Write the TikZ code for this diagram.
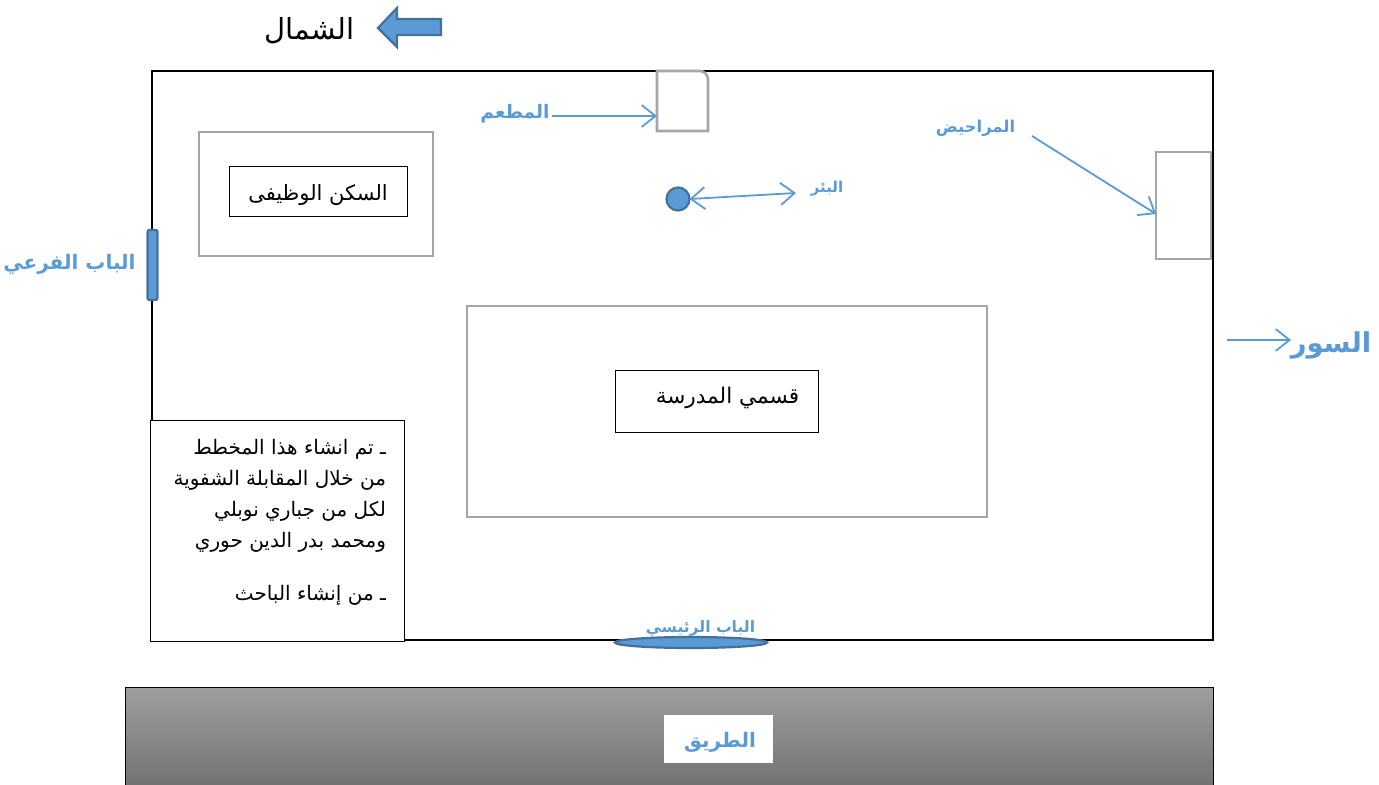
\documentclass[tikz,border=0pt]{standalone}
\usepackage{fontspec}
\usetikzlibrary{arrows.meta,shapes.geometric}
\TeXXeTstate=1
\newfontfamily\arabicfont[Script=Arabic]{DejaVu Sans}
\definecolor{lblue}{HTML}{5B9BD5}
\definecolor{dblue}{HTML}{41719C}
\definecolor{wallgray}{HTML}{A6A6A6}
\newcommand{\ar}[1]{\arabicfont\beginR #1\endR}
\tikzset{
  every node/.style={inner sep=0pt,outer sep=0pt},
  blk/.style={draw=black,line width=0.5pt,fill=white},
  graybox/.style={draw=wallgray,line width=1.3pt},
  barbtip/.tip={Straight Barb[length=7pt,width=11pt,line width=0.9pt]},
  barb/.style={lblue,line width=0.9pt,-barbtip},
  bluelabel/.style={text=lblue,font=\bfseries},
  doorstyle/.style={fill=lblue,draw=dblue,line width=1.1pt},
}
\begin{document}
\begin{tikzpicture}[x=0.5pt,y=-0.5pt]
\useasboundingbox (0,0) rectangle (1379,785);
% road
\draw[black,line width=0.5pt,top color=black!38,bottom color=black!55] (125,785) -- (125,687) -- (1213,687) -- (1213,785);
\node[fill=white,minimum width=54.5pt,minimum height=24pt] (roadbox) at (718.5,739) {};
\node[bluelabel,font=\bfseries\fontsize{10}{12}\selectfont] (road) at (720,742) {\ar{الطريق}};
% wall
\draw[black,line width=1pt] (152,71) rectangle (1213,640);
% north
\draw[doorstyle] (378,28) -- (397,8) -- (397,19) -- (441,19) -- (441,35) -- (397,35) -- (397,47) -- cycle;
\node[font=\fontsize{14.5}{18}\selectfont] (north) at (309.5,31) {\ar{الشمال}};
% housing
\draw[graybox] (199,132) rectangle (433,256);
\node[blk,minimum width=89pt,minimum height=25pt] (housing) at (318,192) {};
\node[font=\fontsize{10.5}{13}\selectfont] at (318,195) {\ar{السكن الوظيفى}};
% school
\draw[graybox] (467,306) rectangle (987,517);
\node[blk,minimum width=101.5pt,minimum height=30.5pt] (school) at (716.5,401.5) {};
\node[font=\fontsize{10.8}{13}\selectfont] at (727.5,398) {\ar{قسمي  المدرسة}};
% restaurant
\draw[graybox,fill=white] (657,71) -- (700,71) to[out=0,in=90] (708,80) -- (708,131) -- (657,131) -- cycle;
\coordinate (restW) at (657,116);
\node[bluelabel,font=\bfseries\fontsize{9.3}{12}\selectfont] (restlabel) at (515,114) {\ar{المطعم}};
\draw[barb] (552,116) -- (restW);
% well
\node[circle,doorstyle,minimum size=11.5pt] (well) at (678,199) {};
\node[bluelabel,font=\bfseries\fontsize{7.5}{9}\selectfont] (welllabel) at (827,189) {\ar{البئر}};
\draw[lblue,line width=0.9pt,barbtip-barbtip] (well.east) -- (796,193);
% toilets
\draw[graybox] (1156,152) rectangle (1211,259);
\coordinate (toilW) at (1156,214);
\node[bluelabel,font=\bfseries\fontsize{8.2}{10}\selectfont] (toillabel) at (975.5,128) {\ar{المراحيض}};
\draw[barb] (1032,136) -- (toilW);
% side door
\node[doorstyle,rounded corners=1pt,minimum width=5pt,minimum height=35pt] (sidedoor) at (152.5,265) {};
\node[bluelabel,font=\bfseries\fontsize{10}{12}\selectfont] (sidelabel) at (69.5,264) {\ar{الباب الفرعي}};
% wall label
\node[bluelabel,font=\bfseries\fontsize{13.7}{18}\selectfont] (walllabel) at (1331,345) {\ar{السور}};
\coordinate (wallstart) at (1227,340);
\draw[barb] (wallstart) -- (1291,340);
% note
\node[blk,minimum width=127pt,minimum height=110pt] (notebox) at (277,531) {};
\node[anchor=north east,align=right,font=\fontsize{10}{15.5}\selectfont] (note) at (386,439.5) {%
\ar{ـ تم انشاء هذا المخطط}\\
\ar{من خلال المقابلة الشفوية}\\
\ar{لكل من جباري نوبلي}\\
\ar{ومحمد بدر الدين حوري}\\[11pt]
\ar{ـ من إنشاء الباحث}};
% main door
\node[ellipse,doorstyle,minimum width=76pt,minimum height=5.5pt] (maindoor) at (691,642.5) {};
\node[bluelabel,font=\bfseries\fontsize{7.8}{9}\selectfont] (mainlabel) at (700.5,628) {\ar{الباب الرئيسي}};
\end{tikzpicture}
\end{document}
